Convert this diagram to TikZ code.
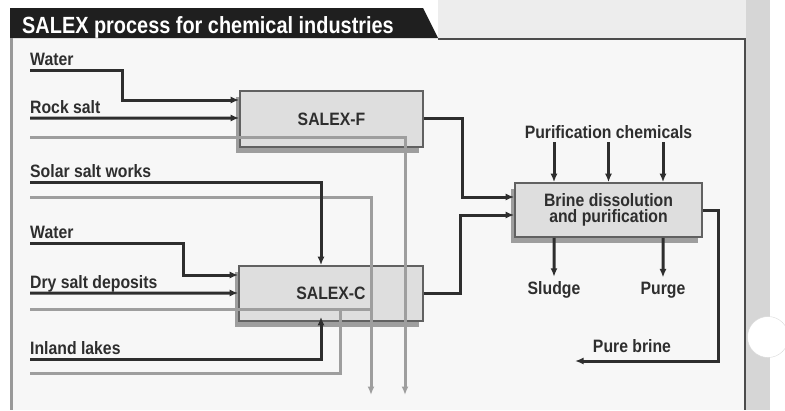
\documentclass[tikz,border=0pt]{standalone}
\usepackage{fontspec}
\newfontfamily\diagfont[FakeStretch=0.88]{Liberation Sans}
\newfontfamily\headfont[FakeStretch=0.85]{Liberation Sans}
\newcommand{\salexfont}{\diagfont\bfseries\fontsize{18}{16.5}\selectfont}
\usetikzlibrary{arrows.meta}
\usetikzlibrary{shadows}
\tikzset{>={Latex[length=8.5bp,width=7bp]}}
\tikzset{unit/.style = {draw=black!62, fill=black!13, line width=1.6bp, font=\salexfont, text=black!82,
    drop shadow={shadow xshift=-4bp, shadow yshift=-6bp, fill=black!38, opacity=1}}}
\tikzset{inlabel/.style = {anchor=base west, inner sep=0pt, font=\salexfont, text=black!82}}
\tikzset{outlabel/.style = {anchor=base, inner sep=4bp, font=\salexfont, text=black!82}}
\tikzset{flow/.style = {->, draw=black!82, line width=3bp}}
\tikzset{bypass/.style = {draw=black!38, line width=3bp}}

\begin{document}
\begin{tikzpicture}[x=1bp,y=-1bp]
            \useasboundingbox (0,0) rectangle (785,410);

            % Page and frame
            \fill[white] (0,0) rectangle (785,410);
            \fill[black!7] (438,0) rectangle (746,39);
            \fill[black!16] (746,0) rectangle (770,410);
            \fill[black!3] (10,38) rectangle (745,410);
            \draw[black!15, fill=white] (768,337) circle[radius=20.5];
            \fill[black!88] (10,8) -- (423,8) -- (438,38) -- (10,38) -- cycle;
            \draw[black!70, line width=1.4bp] (438,39) -- (745,39) -- (745,410);
            \draw[black!40, line width=3bp] (11,38) -- (11,410);
            \node[anchor=base west, inner sep=0pt, text=white, font=\headfont\bfseries\fontsize{23.5}{23.5}\selectfont] (title) at (22,33) {SALEX process for chemical industries};

            % Units
            \node[unit, minimum width=183bp, minimum height=56bp] (salexf) at (331.5,119) {SALEX-F};
            \node[unit, minimum width=184bp, minimum height=55bp] (salexc) at (331,293.5) {SALEX-C};
            \node[unit, minimum width=187bp, minimum height=54bp, align=center] (brine) at (608.5,210) {Brine dissolution\\and purification};

            % Feeds
            \node[inlabel] (water1) at (30,65.5) {Water};
            \node[inlabel] (rocksalt) at (30,113.5) {Rock salt};
            \node[inlabel] (solar) at (30,177.5) {Solar salt works};
            \node[inlabel] (water2) at (30,238.5) {Water};
            \node[inlabel] (dry) at (30,288.5) {Dry salt deposits};
            \node[inlabel] (inland) at (30,354.5) {Inland lakes};

            % Products
            \node[outlabel] (chem) at (608.5,138) {Purification chemicals};
            \node[outlabel] (sludge) at (554,294) {Sludge};
            \node[outlabel] (purge) at (663,294) {Purge};
            \node[outlabel] (pure) at (632,352) {Pure brine};

            % Loose ends
            \coordinate (brineout) at (575,361);
            \coordinate (bypassf) at (30,137);
            \coordinate (bypasss) at (30,197);
            \coordinate (bypassc) at (30,309);
            \coordinate (splitc) at (340,309);
            \coordinate (returnc) at (30,373);
            \coordinate (outf) at (405,395);
            \coordinate (outs) at (371,395);

            % Grey lines
            \draw[bypass, ->] (bypassf) -| (outf);
            \draw[bypass, ->] (bypasss) -| (outs);
            \draw[bypass] (bypassc) -- (bypassc -| outs);
            \draw[bypass] (returnc) -| (splitc);

            % SALEX-F
            \draw[flow] ([yshift=-4.5bp]water1.base west) -- ++(92,0) |- (salexf.west |- 0,100);
            \draw[flow] ([yshift=-4.5bp]rocksalt.base west) -- (salexf.west |- 0,118);
            \draw[flow] (salexf.east |- 0,118) -- ++(39,0) |- (brine.west |- 0,197);

            % SALEX-C
            \draw[flow] ([yshift=-4.5bp]solar.base west) -- ++(291,0) -- (salexc.north -| 321,0);
            \draw[flow] ([yshift=-4.5bp]water2.base west) -- ++(153,0) |- (salexc.west |- 0,275);
            \draw[flow] ([yshift=-4.5bp]dry.base west) -- (salexc.west |- 0,293);
            \draw[flow, shorten >=-5bp] ([yshift=-4.5bp]inland.base west) -- ++(291,0) -- (salexc.south -| 321,0);
            \draw[flow] (salexc.east) -- ++(37,0) |- (brine.west |- 0,215);

            % Brine
            \draw[flow] ([xshift=-54.5bp]chem.south) -- ([xshift=-54.5bp]brine.north);
            \draw[flow] (chem.south) -- (brine.north);
            \draw[flow] ([xshift=54.5bp]chem.south) -- ([xshift=54.5bp]brine.north);
            \draw[flow] ([xshift=-54.5bp]brine.south) -- (sludge.north);
            \draw[flow] ([xshift=54.5bp]brine.south) -- (purge.north);
            \draw[flow] (brine.east) -- ++(16,0) |- (brineout);
\end{tikzpicture}
\end{document}
